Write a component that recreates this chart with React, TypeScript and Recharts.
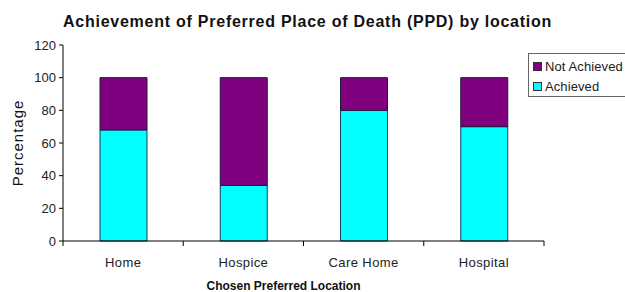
import React from 'react'
import {
  BarChart,
  Bar,
  XAxis,
  YAxis,
} from 'recharts'

const locations = ['Home', 'Hospice', 'Care Home', 'Hospital']
const achieved = [68, 34, 80, 70]
const notAchieved = [32, 66, 20, 30]
const yTicks = [0, 20, 40, 60, 80, 100, 120]
const legendItems = ['Not Achieved', 'Achieved']

const data = locations.map((name, i) => ({
  name,
  achieved: achieved[i],
  notAchieved: notAchieved[i],
}))

const WIDTH = 625
const HEIGHT = 292
const MARGIN = { top: 45, right: 81, bottom: 0, left: 23 }
const Y_WIDTH = 40
const FONT = '"Liberation Sans", Arial, sans-serif'
const PURPLE = '#800080'
const CYAN = '#00ffff'
const legendColors = [PURPLE, CYAN]

const plotWidth = WIDTH - MARGIN.left - MARGIN.right - Y_WIDTH
const band = plotWidth / locations.length

interface TickProps {
  x?: number
  y?: number
  index?: number
  payload?: { value: string }
}

function CategoryTick({ x = 0, y = 0, index = 0, payload }: TickProps) {
  const left = x - band / 2
  const right = x + band / 2
  return (
    <g>
      <line x1={left} x2={left} y1={y - 8} y2={y - 3} stroke="#000" />
      {index === locations.length - 1 && (
        <line x1={right} x2={right} y1={y - 8} y2={y - 3} stroke="#000" />
      )}
      <text
        x={x}
        y={y + 18}
        textAnchor="middle"
        fontSize={13}
        letterSpacing={0.4}
        fill="#222"
        fontFamily={FONT}
      >
        {payload?.value}
      </text>
    </g>
  )
}

function LegendBox() {
  return (
    <div
      style={{
        position: 'absolute',
        left: 528,
        top: 53,
        width: 110,
        height: 44,
        border: '1px solid #666',
        background: '#fff',
        padding: '2px 0 0 4px',
        boxSizing: 'border-box',
        fontFamily: FONT,
        fontSize: 13,
        letterSpacing: 0.1,
        color: '#222',
      }}
    >
      {legendItems.map((label, i) => (
        <div key={label} style={{ display: 'flex', alignItems: 'center', height: 20, whiteSpace: 'nowrap' }}>
          <span
            style={{
              width: 7,
              height: 7,
              background: legendColors[i],
              border: '1px solid #333',
              marginRight: 3,
              display: 'inline-block',
            }}
          />
          {label}
        </div>
      ))}
    </div>
  )
}

export default function App() {
  return (
    <div style={{ position: 'absolute', left: 0, top: 0, width: WIDTH, height: HEIGHT, background: '#fff', overflow: 'hidden' }}>
      <div
        style={{
          position: 'absolute',
          left: 63,
          top: 13,
          fontFamily: FONT,
          fontWeight: 'bold',
          fontSize: 16,
          letterSpacing: 0.75,
          color: '#111',
          whiteSpace: 'nowrap',
        }}
      >
        Achievement of Preferred Place of Death (PPD) by location
      </div>
      <BarChart width={WIDTH} height={HEIGHT} data={data} margin={MARGIN} barSize={47}>
        <XAxis
          dataKey="name"
          height={51}
          tickLine={false}
          axisLine={{ stroke: '#000' }}
          tick={<CategoryTick />}
          interval={0}
          label={{
            value: 'Chosen Preferred Location',
            position: 'insideBottom',
            offset: 2,
            dx: -20,
            fontSize: 12,
            fontWeight: 'bold',
            fill: '#111',
            fontFamily: FONT,
          }}
        />
        <YAxis
          width={Y_WIDTH}
          domain={[0, 120]}
          ticks={yTicks}
          interval={0}
          tickSize={4}
          tickMargin={3}
          axisLine={{ stroke: '#000' }}
          tickLine={{ stroke: '#000' }}
          tick={{ fontSize: 13, fill: '#222', fontFamily: FONT }}
          label={{
            value: 'Percentage',
            angle: -90,
            position: 'insideLeft',
            offset: -5,
            style: { textAnchor: 'middle', letterSpacing: 1 },
            fontSize: 15,
            fill: '#111',
            fontFamily: FONT,
          }}
        />
        <Bar
          dataKey="achieved"
          name="Achieved"
          stackId="a"
          fill={CYAN}
          stroke="#1a3a5a"
          strokeWidth={1}
          isAnimationActive={false}
        />
        <Bar
          dataKey="notAchieved"
          name="Not Achieved"
          stackId="a"
          fill={PURPLE}
          stroke="#1a1a3a"
          strokeWidth={1}
          isAnimationActive={false}
        />
      </BarChart>
      <LegendBox />
    </div>
  )
}
